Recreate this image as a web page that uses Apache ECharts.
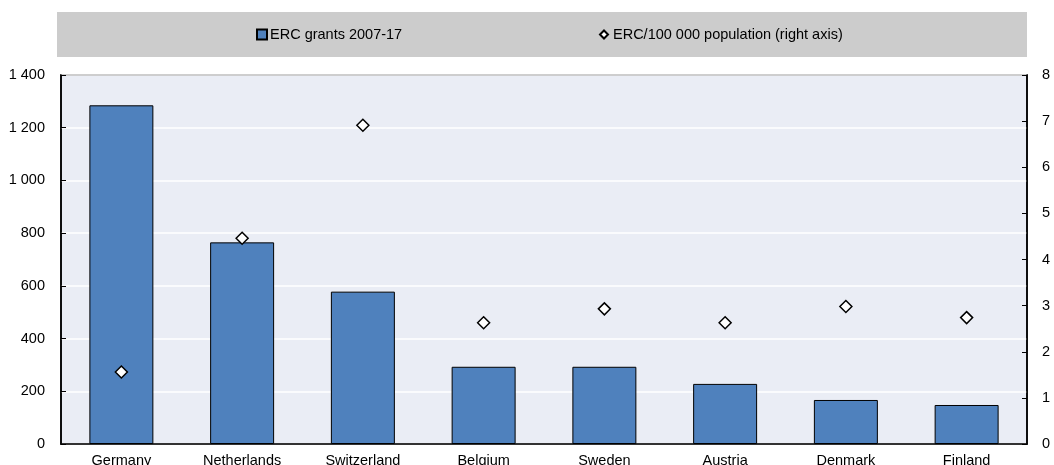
<!DOCTYPE html>
<html>
<head>
<meta charset="utf-8">
<script src="https://cdn.jsdelivr.net/npm/echarts@6/dist/echarts.min.js"></script>
<style>html,body{margin:0;padding:0;background:#fff}#c{width:1054px;height:465px}</style>
</head>
<body>
<div id="c"></div>
<script>
const categories = ["Germany","Netherlands","Switzerland","Belgium","Sweden","Austria","Denmark","Finland"];
const grants = [1285, 765, 578, 293, 293, 228, 167, 148];
const perPop = [1.56, 4.46, 6.91, 2.63, 2.93, 2.63, 2.98, 2.74];
const leftTicks = [0, 200, 400, 600, 800, 1000, 1200, 1400];
const rightTicks = [0, 1, 2, 3, 4, 5, 6, 7, 8];
const seriesNames = ["ERC grants 2007-17", "ERC/100 000 population (right axis)"];

const FONT = "'Liberation Sans', Arial, sans-serif";
const chart = echarts.init(document.getElementById('c'), null, {renderer: 'canvas'});
const fmt = v => String(v).replace(/\B(?=(\d{3})+(?!\d))/g, ' ');
chart.setOption({
  animation: false,
  backgroundColor: '#fff',
  textStyle: {fontFamily: FONT},
  graphic: [{
    type: 'rect', left: 57, top: 12, shape: {width: 970, height: 45},
    style: {fill: '#CCCCCC'}, z: -1
  }],
  legend: [{
    data: [{name: seriesNames[0], icon: 'rect'}],
    left: 251, top: 22, itemWidth: 10, itemHeight: 10, itemGap: 4,
    textStyle: {fontSize: 14.5, color: '#000', fontFamily: FONT, padding: [0,0,0,-2]},
    selectedMode: false
  }, {
    data: [{name: seriesNames[1], icon: 'diamond'}],
    left: 594, top: 22, itemWidth: 8, itemHeight: 8,
    textStyle: {fontSize: 14.5, color: '#000', fontFamily: FONT},
    selectedMode: false
  }],
  grid: {
    left: 61, right: 27, top: 75, bottom: 21, outerBoundsMode: 'none', containLabel: false,
    show: true, backgroundColor: '#EAEDF5', borderColor: '#000', borderWidth: 1.5
  },
  xAxis: {
    type: 'category', data: categories,
    axisLine: {lineStyle: {color: '#000', width: 1.5}},
    axisTick: {inside: true, length: 5, lineStyle: {color: '#000'}},
    axisLabel: {fontSize: 14.5, color: '#000', margin: 9, fontFamily: FONT}
  },
  yAxis: [{
    type: 'value', min: 0, max: 1400, interval: 200,
    axisLine: {show: true, lineStyle: {color: '#000', width: 1.5}},
    axisTick: {show: true, inside: true, length: 5, lineStyle: {color: '#000'}},
    axisLabel: {fontSize: 14.5, color: '#000', margin: 16, formatter: v => leftTicks.includes(v) ? fmt(v) : '', fontFamily: FONT},
    splitLine: {show: true, lineStyle: {color: '#fff', width: 1.5}}
  }, {
    type: 'value', min: 0, max: 8, interval: 1, position: 'right',
    axisLine: {show: true, lineStyle: {color: '#000', width: 1.5}},
    axisTick: {show: true, inside: true, length: 5, lineStyle: {color: '#000'}},
    axisLabel: {fontSize: 14.5, color: '#000', margin: 15, formatter: v => rightTicks.includes(v) ? String(v) : '', fontFamily: FONT},
    splitLine: {show: false}
  }],
  series: [{
    name: seriesNames[0], type: 'bar', data: grants, barWidth: '53%',
    itemStyle: {color: '#4F81BD', borderColor: '#000', borderWidth: 1}
  }, {
    name: seriesNames[1], type: 'scatter', yAxisIndex: 1, data: perPop,
    symbol: 'diamond', symbolSize: 12,
    itemStyle: {color: '#fff', borderColor: '#000', borderWidth: 1.5, opacity: 1}, z: 5
  }]
});
</script>
</body>
</html>
